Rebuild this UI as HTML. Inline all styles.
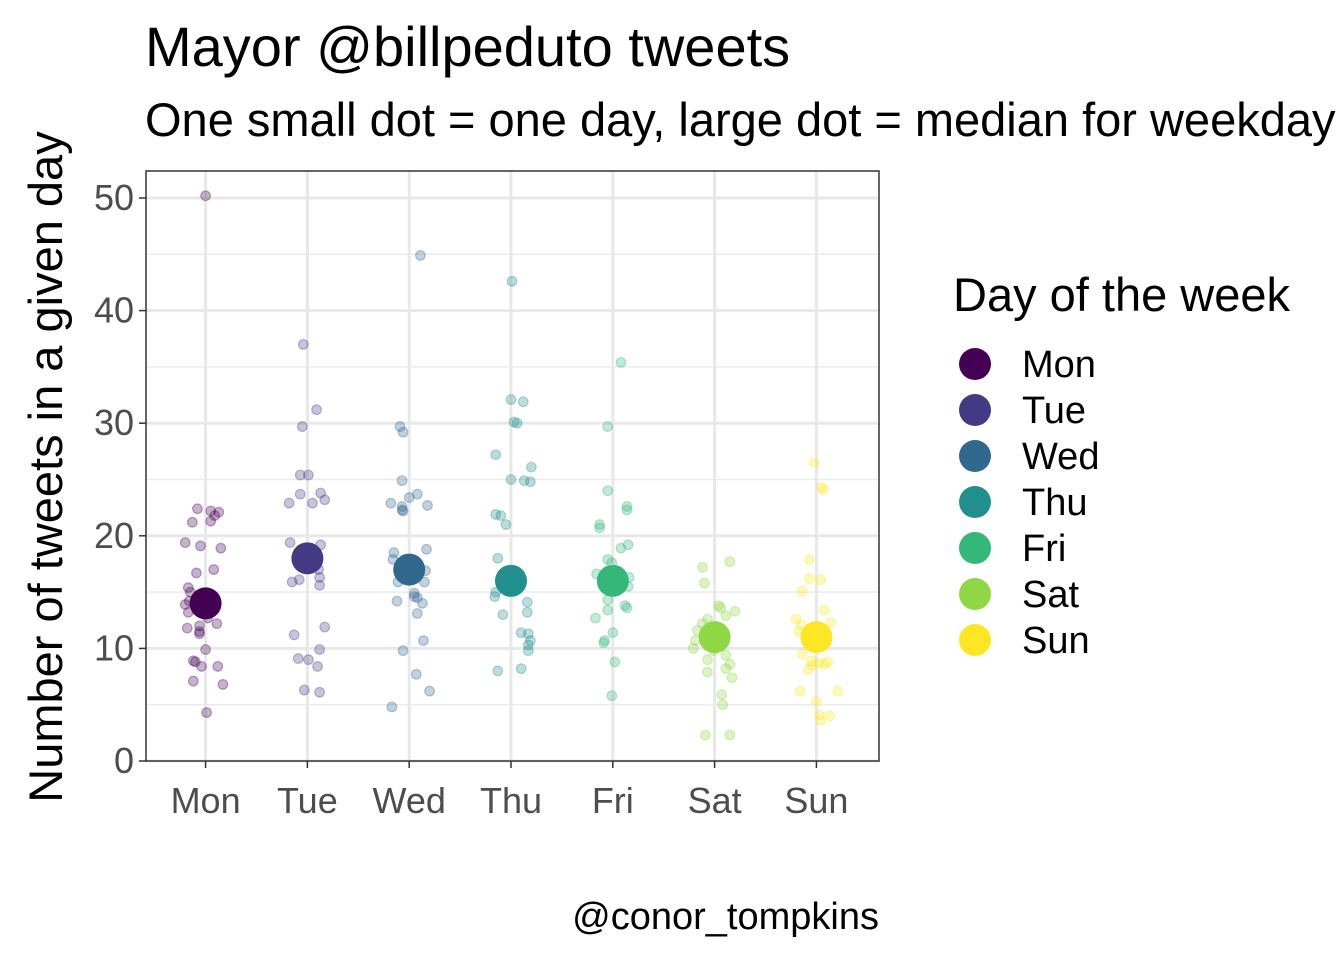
<!DOCTYPE html>
<html><head><meta charset="utf-8"><style>
body{margin:0;background:#fff;overflow:hidden;}
svg text{font-family:"Liberation Sans",Arial,sans-serif;}
</style></head><body>
<svg id="chart" width="1344" height="960" xmlns="http://www.w3.org/2000/svg">
<text x="145" y="66" font-size="56" fill="#000">Mayor @billpeduto tweets</text>
<text x="145" y="136" font-size="47" fill="#000">One small dot = one day, large dot = median for weekday</text>
<text transform="translate(62,467) rotate(-90)" text-anchor="middle" font-size="47" fill="#000">Number of tweets in a given day</text>
<text x="879" y="929" text-anchor="end" font-size="38" fill="#000">@conor_tompkins</text>
<g id="grid"></g><g id="pts"></g><g id="axes"></g><g id="legend"></g>
</svg>
<script>
const categories=["Mon","Tue","Wed","Thu","Fri","Sat","Sun"];
const colors=["#440154","#443A83","#31688E","#21908C","#35B779","#8FD744","#FDE725"];
const medians=[14,18,17,16,16,11,11];
const yTicks=[0,10,20,30,40,50];
const monVals=[50.2,22.4,22.2,22.1,21.8,21.3,21.2,19.4,19.1,18.9,17,16.7,15.4,15,13.9,14.2,13.2,13.2,12.7,12.2,12,11.5,11.8,11.3,9.9,8.9,8.8,8.4,8.4,7.1,6.8,4.3];
const monJit=[0,-0.08,0.05,0.13,0.09,0.05,-0.13,-0.2,-0.05,0.15,0.08,-0.09,-0.17,-0.15,-0.2,-0.16,-0.17,-0.05,0.02,0.11,-0.06,-0.06,-0.18,-0.06,0,-0.12,-0.1,-0.04,0.12,-0.12,0.17,0.01];
const tueVals=[37,31.2,29.7,25.4,25.4,23.7,23.8,23.2,22.9,22.9,19.2,19.4,17,16.3,16.1,15.9,15.6,11.9,11.2,9.9,9.1,8.4,9,6.3,6.1];
const tueJit=[-0.04,0.09,-0.05,-0.07,0.01,-0.07,0.13,0.17,0.05,-0.18,0.13,-0.17,0.11,0.12,-0.08,-0.15,0.12,0.17,-0.13,0.12,-0.09,0.1,0.01,-0.03,0.12];
const wedVals=[44.9,29.7,29.2,24.9,23.4,23.7,22.9,22.6,22.7,22.2,22.3,18.8,18.5,17.9,16.9,15.9,15.9,14.9,14.6,14.2,14,14.5,13.1,10.7,9.8,7.7,6.2,4.8];
const wedJit=[0.11,-0.09,-0.06,-0.07,0,0.08,-0.18,-0.07,0.18,-0.06,-0.07,0.17,-0.15,-0.16,0.16,-0.11,0.15,0.05,0.05,-0.12,0.13,0.08,0.08,0.14,-0.06,0.07,0.2,-0.17];
const thuVals=[42.6,32.1,31.9,30.1,30,27.2,26.1,25,24.9,24.8,21.9,21.8,21,18,15,14.6,14.1,13.2,13,11.4,11.3,10.7,10.3,9.8,8.2,8];
const thuJit=[0.01,0,0.12,0.03,0.06,-0.15,0.2,0,0.13,0.19,-0.15,-0.1,-0.05,-0.13,-0.15,-0.16,0.16,0.16,-0.08,0.1,0.17,0.19,0.17,0.17,0.1,-0.13];
const friVals=[35.4,29.7,24,22.6,22.3,21,20.7,19.2,18.9,17.9,17.6,16.6,16.8,16.3,15.5,14.3,13.8,13.6,13.4,12.7,11.4,10.7,10.5,5.8,8.8];
const friJit=[0.08,-0.05,-0.05,0.14,0.14,-0.13,-0.13,0.15,0.08,-0.05,-0.01,-0.16,0.03,0.16,0.15,-0.05,0.12,0.14,-0.05,-0.17,0,-0.08,-0.09,-0.01,0.02];
const satVals=[17.7,17.2,15.8,13.8,13.6,13.3,12.9,12.6,12.2,11.6,10.7,9.8,9.4,9,8.6,8.2,7.4,7.9,5.9,5,2.3,2.3,10];
const satJit=[0.15,-0.12,-0.1,0.04,0.06,0.2,0.11,-0.07,-0.12,-0.17,-0.19,-0.01,0.11,-0.07,0.15,0.11,0.17,-0.07,0.07,0.08,-0.09,0.15,-0.21];
const sunVals=[26.5,24.3,24.1,17.9,16.2,16.1,15.1,13.4,12.6,12.3,12.1,11.5,9.5,8.9,8.7,8.6,8.5,8.8,8.1,6.2,5.3,4.1,4,3.6,6.2];
const sunJit=[-0.02,0.05,0.07,-0.07,-0.07,0.04,-0.14,0.08,-0.2,0.14,-0.15,-0.17,-0.14,-0.05,0.02,0.08,-0.04,0.11,-0.08,-0.16,0,0.03,0.13,0.04,0.21];
const seriesVals=[monVals,tueVals,wedVals,thuVals,friVals,satVals,sunVals];
const seriesJit=[monJit,tueJit,wedJit,thuJit,friJit,satJit,sunJit];

const NS="http://www.w3.org/2000/svg";
const L=146,R=879,T=171,B=761;
const yScale=v=>761-(v/50)*(761-198);
const step=(R-L)/7.2;
const xScale=i=>L+step*(i+0.6)-1.5;
function mk(tag,attrs,parent){const e=document.createElementNS(NS,tag);for(const k in attrs)e.setAttribute(k,attrs[k]);parent.appendChild(e);return e;}
const grid=document.getElementById('grid'),pts=document.getElementById('pts'),axes=document.getElementById('axes'),legend=document.getElementById('legend');
for(let v=5;v<=50;v+=10){const l=mk('line',{x1:L,x2:R,y1:yScale(v),y2:yScale(v),stroke:'#ebebeb','stroke-width':1.5},grid);

}
yTicks.forEach(v=>{const l=mk('line',{x1:L,x2:R,y1:yScale(v),y2:yScale(v),stroke:'#e8e8e8','stroke-width':3},grid);


const t=mk('line',{x1:L-7,x2:L,y1:yScale(v),y2:yScale(v),stroke:'#333','stroke-width':1.5},axes);


const tx=mk('text',{x:L-12,y:yScale(v)+12,'text-anchor':'end','font-size':36,fill:'#4d4d4d'},axes);tx.textContent=v;

});
categories.forEach((c,i)=>{const x=xScale(i);
const l=mk('line',{x1:x,x2:x,y1:T,y2:B,stroke:'#e8e8e8','stroke-width':3},grid);


const t=mk('line',{x1:x,x2:x,y1:B,y2:B+7,stroke:'#333','stroke-width':1.5},axes);


const tx=mk('text',{x:x,y:813,'text-anchor':'middle','font-size':36,fill:'#4d4d4d'},axes);tx.textContent=c;


seriesVals[i].forEach((v,j)=>{const p=mk('circle',{cx:x+seriesJit[i][j]*step,cy:yScale(v),r:4.8,fill:colors[i],'fill-opacity':0.3,stroke:colors[i],'stroke-opacity':0.35,'stroke-width':1.2},pts);

});
});
categories.forEach((c,i)=>{const m=mk('circle',{cx:xScale(i),cy:yScale(medians[i]),r:16,fill:colors[i]},pts);


const lc=mk('circle',{cx:975,cy:364+46*i,r:16,fill:colors[i]},legend);


const lt=mk('text',{x:1022,y:377+46*i,'font-size':38,fill:'#000'},legend);lt.textContent=c;

});
const lg=mk('text',{x:953,y:311,'font-size':47,fill:'#000'},legend);lg.textContent='Day of the week';


const border=mk('rect',{x:L,y:T,width:R-L,height:B-T,fill:'none',stroke:'#333','stroke-width':1.5},axes);


</script>
</body></html>
